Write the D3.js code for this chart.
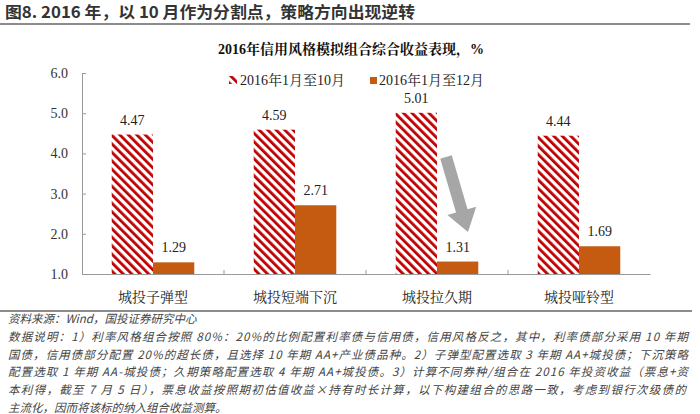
<!DOCTYPE html>
<html><head><meta charset="utf-8">
<script src="https://cdn.jsdelivr.net/npm/d3@7"></script>
<style>body{margin:0;background:#fff}svg{display:block}</style>
</head><body>
<svg id="c" width="700" height="414"></svg>
<script>
const categories = ["城投子弹型","城投短端下沉","城投拉久期","城投哑铃型"];
const seriesNames = ["2016年1月至10月","2016年1月至12月"];
const oct = [4.47, 4.59, 5.01, 4.44];
const dec = [1.29, 2.71, 1.31, 1.69];
const yTicks = [1.0, 2.0, 3.0, 4.0, 5.0, 6.0];
const header = "图8. 2016 年，以 10 月作为分割点，策略方向出现逆转";
const chartTitle = "2016年信用风格模拟组合综合收益表现，%";
const notes = [
 "资料来源：Wind，国投证券研究中心",
 "数据说明：1）利率风格组合按照 80%：20%的比例配置利率债与信用债，信用风格反之，其中，利率债部分采用 10 年期",
 "国债，信用债部分配置 20%的超长债，且选择 10 年期 AA+产业债品种。2）子弹型配置选取 3 年期 AA+城投债；下沉策略",
 "配置选取 1 年期 AA-城投债；久期策略配置选取 4 年期 AA+城投债。3）计算不同券种/组合在 2016 年投资收益（票息+资",
 "本利得，截至 7 月 5 日），票息收益按照期初估值收益×持有时长计算，以下构建组合的思路一致，考虑到银行次级债的",
 "主流化，因而将该标的纳入组合收益测算。"
];
const noteWidths = [null, 680, 680, 680, 678, null];

const svg = d3.select("#c");
const serif = "'Liberation Serif','Times New Roman',serif";
const cjkSerif = "'Liberation Serif','Noto Serif CJK SC','Noto Sans CJK SC',serif";
const red = "#c00000", orange = "#c55a11";

// pattern
const defs = svg.append("defs");
const pat = defs.append("pattern").attr("id","hatch").attr("patternUnits","userSpaceOnUse")
  .attr("width",6).attr("height",6).attr("patternTransform","rotate(-45)");
pat.append("rect").attr("width",6).attr("height",6).attr("fill","#fff");
pat.append("rect").attr("x",0).attr("width",2.8).attr("height",6).attr("fill",red);

// header
svg.append("text").attr("x",5).attr("y",18).text(header)
  .attr("font-family","'Noto Sans CJK SC','Liberation Sans',sans-serif").attr("font-weight","bold")
  .attr("font-size",16).attr("fill","#333").attr("textLength",410).attr("lengthAdjust","spacingAndGlyphs");
svg.append("line").attr("x1",0).attr("x2",690).attr("y1",24).attr("y2",24).attr("stroke","#666").attr("stroke-width",1.5);

// chart title
svg.append("text").attr("x",351).attr("y",54).attr("text-anchor","middle").text(chartTitle)
  .attr("font-family",cjkSerif).attr("font-weight","bold").attr("font-size",14).attr("fill","#111");

const x0 = d3.scaleBand().domain(categories).range([82,650]);
const x1 = d3.scaleBand().domain([0,1]).range([0, x0.bandwidth()]).paddingOuter(0.72).paddingInner(0);
const y = d3.scaleLinear().domain([1,6]).range([274,73]);

// axes
const yAxis = svg.append("g").attr("transform","translate(82,0)")
  .call(d3.axisRight(y).tickValues(yTicks).tickSize(4).tickFormat(""));
yAxis.select(".domain").attr("stroke","#999");
yAxis.selectAll(".tick line").attr("stroke","#999");
svg.append("g").selectAll("text").data(yTicks).join("text")
  .attr("x",68).attr("y",d=>y(d)+5).attr("text-anchor","end").text(d=>d.toFixed(1))
  .attr("font-family",serif).attr("font-size",14).attr("fill","#333");

// bars
const g = svg.append("g");
categories.forEach((c,i)=>{
  const gx = x0(c);
  g.append("rect").attr("x",gx+x1(0)).attr("width",x1.bandwidth()).attr("y",y(oct[i])).attr("height",y(1)-y(oct[i])).attr("fill","url(#hatch)");
  g.append("rect").attr("x",gx+x1(1)).attr("width",x1.bandwidth()).attr("y",y(dec[i])).attr("height",y(1)-y(dec[i])).attr("fill",orange);
  g.append("text").attr("x",gx+x1(0)+x1.bandwidth()/2).attr("y",y(oct[i])-10).attr("text-anchor","middle").text(oct[i].toFixed(2))
    .attr("font-family",serif).attr("font-size",14).attr("fill","#222");
  g.append("text").attr("x",gx+x1(1)+x1.bandwidth()/2).attr("y",y(dec[i])-10).attr("text-anchor","middle").text(dec[i].toFixed(2))
    .attr("font-family",serif).attr("font-size",14).attr("fill","#222");
});

const xAxis = svg.append("g").attr("transform","translate(0,274)")
  .call(d3.axisTop(x0).tickSize(0).tickFormat(""));
xAxis.select(".domain").attr("stroke","#999");
// boundary ticks
svg.append("g").selectAll("line").data(categories.slice(1)).join("line")
  .attr("x1",d=>x0(d)).attr("x2",d=>x0(d)).attr("y1",274).attr("y2",270).attr("stroke","#999");
svg.append("g").selectAll("text").data(categories).join("text")
  .attr("x",d=>x0(d)+x0.bandwidth()/2).attr("y",302).attr("text-anchor","middle").text(d=>d)
  .attr("font-family",cjkSerif).attr("font-size",14).attr("fill","#222");

// legend
const lg = svg.append("g");
lg.append("rect").attr("x",229).attr("y",76).attr("width",8).attr("height",8).attr("fill","url(#hatch)");
lg.append("text").attr("x",240).attr("y",85).text(seriesNames[0]).attr("font-family",cjkSerif).attr("font-size",14).attr("fill","#222");
lg.append("rect").attr("x",370).attr("y",77).attr("width",7).attr("height",7).attr("fill",orange);
lg.append("text").attr("x",379).attr("y",85).text(seriesNames[1]).attr("font-family",cjkSerif).attr("font-size",14).attr("fill","#222");

// arrow
const ax0=446, ay0=157, ax1=468, ay1=232;
const ang = Math.atan2(ay1-ay0, ax1-ax0);
const len = Math.hypot(ax1-ax0, ay1-ay0);
const sw=6, hw=15, hl=22;
const pts = [[0,-sw],[len-hl,-sw],[len-hl,-hw],[len,0],[len-hl,hw],[len-hl,sw],[0,sw]];
svg.append("polygon").attr("points",pts.map(p=>p.join(",")).join(" "))
  .attr("transform",`translate(${ax0},${ay0}) rotate(${ang*180/Math.PI})`).attr("fill","#a6a6a6");

// footer
svg.append("line").attr("x1",0).attr("x2",692).attr("y1",311).attr("y2",311).attr("stroke","#666").attr("stroke-width",1.5);
notes.forEach((t,i)=>{
  const tx = svg.append("text").attr("x",8).attr("y",323+i*17.8).text(t)
    .attr("font-family","'Noto Sans CJK SC',sans-serif").attr("font-style","italic").attr("font-size",11.5).attr("fill","#444");
  if(noteWidths[i]) tx.attr("textLength",noteWidths[i]).attr("lengthAdjust","spacing");
});
</script>
</body></html>
